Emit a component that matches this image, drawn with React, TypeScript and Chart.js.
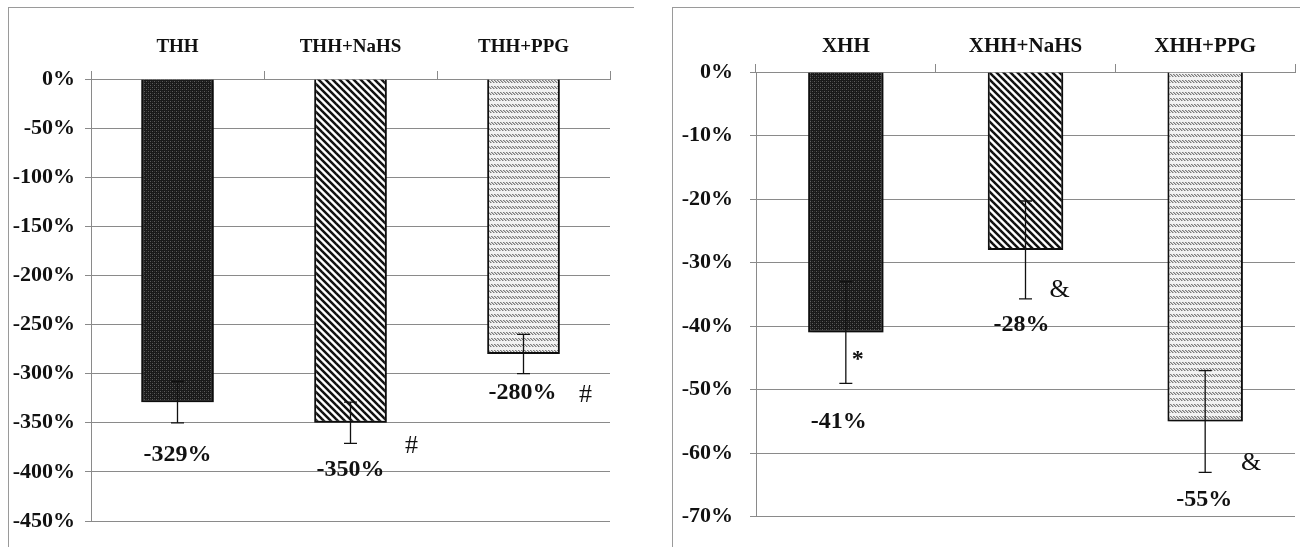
import React, { useEffect, useRef } from "react";
import { Chart, registerables } from "chart.js";

Chart.register(...registerables);

// ---- Data ----
const leftCategories = ["THH", "THH+NaHS", "THH+PPG"];
const leftValues = [-329, -350, -280];
const leftErrors = [21, 21, 20];
const leftMarks = ["", "#", "#"];
const leftMin = -450;
const leftMax = 0;
const leftStep = 50;

const rightCategories = ["XHH", "XHH+NaHS", "XHH+PPG"];
const rightValues = [-41, -28, -55];
const rightErrors = [8, 7.7, 8];
const rightMarks = ["*", "&", "&"];
const rightMin = -70;
const rightMax = 0;
const rightStep = 10;

// ---- Layout (pixel offsets of labels relative to bar centre / error-bar bottom) ----
const leftLabelOffsets = [
  { dx: 0, dy: 32 },
  { dx: 0, dy: 26 },
  { dx: -1, dy: 19 },
];
const leftMarkOffsets = [
  { dx: 0, dy: 0 },
  { dx: 61, dy: 3 },
  { dx: 62, dy: 22 },
];
const rightLabelOffsets = [
  { dx: -7, dy: 38 },
  { dx: -4, dy: 26 },
  { dx: -1, dy: 27 },
];
const rightMarkOffsets = [
  { dx: 12, dy: -24 },
  { dx: 34, dy: -9 },
  { dx: 46, dy: -9 },
];

const FONT = "'Liberation Serif', 'Times New Roman', serif";

function makeTile(w: number, h: number, draw: (c: CanvasRenderingContext2D) => void) {
  const cv = document.createElement("canvas");
  cv.width = w;
  cv.height = h;
  const c = cv.getContext("2d")!;
  draw(c);
  return cv;
}

function makePatterns(ctx: CanvasRenderingContext2D) {
  const dots = makeTile(4, 4, (c) => {
    c.fillStyle = "#1a1a1a";
    c.fillRect(0, 0, 4, 4);
    c.fillStyle = "#5c5c5c";
    c.fillRect(0, 0, 1, 1);
    c.fillRect(2, 2, 1, 1);
    c.fillStyle = "#333";
    c.fillRect(2, 0, 1, 1);
    c.fillRect(0, 2, 1, 1);
  });
  const stripes = makeTile(7, 7, (c) => {
    c.fillStyle = "#ffffff";
    c.fillRect(0, 0, 7, 7);
    c.strokeStyle = "#111";
    c.lineWidth = 2.5;
    for (const off of [-7, 0, 7]) {
      c.beginPath();
      c.moveTo(off - 1, -1);
      c.lineTo(off + 8, 8);
      c.stroke();
    }
  });
  const waves = makeTile(3, 6, (c) => {
    c.fillStyle = "#f2f2f2";
    c.fillRect(0, 0, 3, 6);
    c.fillStyle = "#7c7c7c";
    c.fillRect(0, 1, 1, 1);
    c.fillRect(1, 2, 1, 1);
    c.fillRect(2, 3, 1, 1);
    c.fillStyle = "#b8b8b8";
    c.fillRect(1, 1, 1, 1);
    c.fillRect(2, 2, 1, 1);
    c.fillRect(0, 3, 1, 1);
  });
  return [
    ctx.createPattern(dots, "repeat")!,
    ctx.createPattern(stripes, "repeat")!,
    ctx.createPattern(waves, "repeat")!,
  ];
}

type Off = { dx: number; dy: number };

interface PanelProps {
  categories: string[];
  values: number[];
  errors: number[];
  marks: string[];
  min: number;
  max: number;
  step: number;
  labelOffsets: Off[];
  markOffsets: Off[];
  width: number;
  height: number;
  areaLeft: number;
  areaTop: number;
  padRight: number;
  padBottom: number;
  yTickPad: number;
  xTickPad: number;
  tickFont: number;
  catFont: number;
}

function Panel(p: PanelProps) {
  const ref = useRef<HTMLCanvasElement>(null);
  useEffect(() => {
    const canvas = ref.current!;
    const ctx0 = canvas.getContext("2d")!;
    const patterns = makePatterns(ctx0);

    const shadowPlugin = {
      id: "barShadow",
      beforeDatasetsDraw(chart: any) {
        const c = chart.ctx;
        c.save();
        c.shadowColor = "rgba(0,0,0,0.35)";
        c.shadowBlur = 4;
        c.shadowOffsetX = 2;
        c.shadowOffsetY = 2;
      },
      afterDatasetsDraw(chart: any) {
        chart.ctx.restore();
      },
    };

    const errorPlugin = {
      id: "errorBarsAndLabels",
      afterDraw(chart: any) {
        const c = chart.ctx as CanvasRenderingContext2D;
        const yScale = chart.scales.y;
        const meta = chart.getDatasetMeta(0);
        c.save();
        meta.data.forEach((bar: any, i: number) => {
          const v = p.values[i];
          const e = p.errors[i];
          const x = bar.x;
          const yT = yScale.getPixelForValue(v + e);
          const yB = yScale.getPixelForValue(v - e);
          c.strokeStyle = "#111";
          c.lineWidth = 1.3;
          c.beginPath();
          c.moveTo(x, yT);
          c.lineTo(x, yB);
          c.moveTo(x - 6.5, yT);
          c.lineTo(x + 6.5, yT);
          c.moveTo(x - 6.5, yB);
          c.lineTo(x + 6.5, yB);
          c.stroke();

          c.fillStyle = "#111";
          c.textAlign = "center";
          c.textBaseline = "middle";
          c.font = `bold 24px ${FONT}`;
          const lo = p.labelOffsets[i];
          c.fillText(`${v}%`, x + lo.dx, yB + lo.dy);

          const m = p.marks[i];
          if (m) {
            const mo = p.markOffsets[i];
            c.font = m === "*" ? `bold 24px ${FONT}` : `26px ${FONT}`;
            c.fillText(m, x + mo.dx, yB + mo.dy);
          }
        });
        c.restore();
      },
    };

    const chart = new Chart(canvas, {
      type: "bar",
      data: {
        labels: p.categories,
        datasets: [
          {
            data: p.values,
            backgroundColor: patterns as any,
            borderColor: "#111",
            borderWidth: 2,
            barPercentage: 0.42,
            categoryPercentage: 1,
          },
        ],
      },
      options: {
        animation: false,
        responsive: false,
        maintainAspectRatio: false,
        layout: {
          padding: { left: 0, top: 0, right: p.padRight, bottom: p.padBottom },
        },
        plugins: {
          legend: { display: false },
          tooltip: { enabled: false },
        },
        scales: {
          x: {
            position: "top",
            offset: true,
            grid: {
              offset: true,
              drawOnChartArea: false,
              tickLength: 8,
              color: "#8a8a8a",
              lineWidth: 1,
            },
            border: { color: "#8a8a8a", width: 1 },
            ticks: {
              color: "#111",
              font: { family: FONT, size: p.catFont, weight: "bold" },
              padding: p.xTickPad,
              maxRotation: 0,
              autoSkip: false,
            },
            afterFit: (s: any) => {
              s.height = p.areaTop;
            },
          },
          y: {
            min: p.min,
            max: p.max,
            ticks: {
              stepSize: p.step,
              callback: (v: any) => `${v}%`,
              color: "#111",
              font: { family: FONT, size: p.tickFont, weight: "bold" },
              padding: p.yTickPad,
            },
            grid: { color: "#8a8a8a", lineWidth: 1, tickLength: 6 },
            border: { color: "#8a8a8a", width: 1 },
            afterFit: (s: any) => {
              s.width = p.areaLeft;
            },
          },
        },
      } as any,
      plugins: [shadowPlugin, errorPlugin],
    });
    return () => chart.destroy();
  }, []);
  return <canvas ref={ref} width={p.width} height={p.height} style={{ display: "block" }} />;
}

export default function App() {
  return (
    <div>
      <div
        style={{
          position: "fixed",
          left: 8,
          top: 7,
          width: 625,
          height: 545,
          borderTop: "1px solid #9a9a9a",
          borderLeft: "1px solid #9a9a9a",
        }}
      />
      <div
        style={{
          position: "fixed",
          left: 672,
          top: 7,
          width: 640,
          height: 545,
          borderTop: "1px solid #9a9a9a",
          borderLeft: "1px solid #9a9a9a",
        }}
      />
      <div style={{ position: "fixed", left: 8, top: 7 }}>
        <Panel
          categories={leftCategories}
          values={leftValues}
          errors={leftErrors}
          marks={leftMarks}
          min={leftMin}
          max={leftMax}
          step={leftStep}
          labelOffsets={leftLabelOffsets}
          markOffsets={leftMarkOffsets}
          width={632}
          height={540}
          areaLeft={83}
          areaTop={72}
          padRight={30}
          padBottom={26}
          yTickPad={10}
          xTickPad={13}
          tickFont={22}
          catFont={19}
        />
      </div>
      <div style={{ position: "fixed", left: 672, top: 7 }}>
        <Panel
          categories={rightCategories}
          values={rightValues}
          errors={rightErrors}
          marks={rightMarks}
          min={rightMin}
          max={rightMax}
          step={rightStep}
          labelOffsets={rightLabelOffsets}
          markOffsets={rightMarkOffsets}
          width={628}
          height={540}
          areaLeft={84}
          areaTop={65}
          padRight={5}
          padBottom={24}
          yTickPad={17}
          xTickPad={5}
          tickFont={22}
          catFont={21}
        />
      </div>
    </div>
  );
}
